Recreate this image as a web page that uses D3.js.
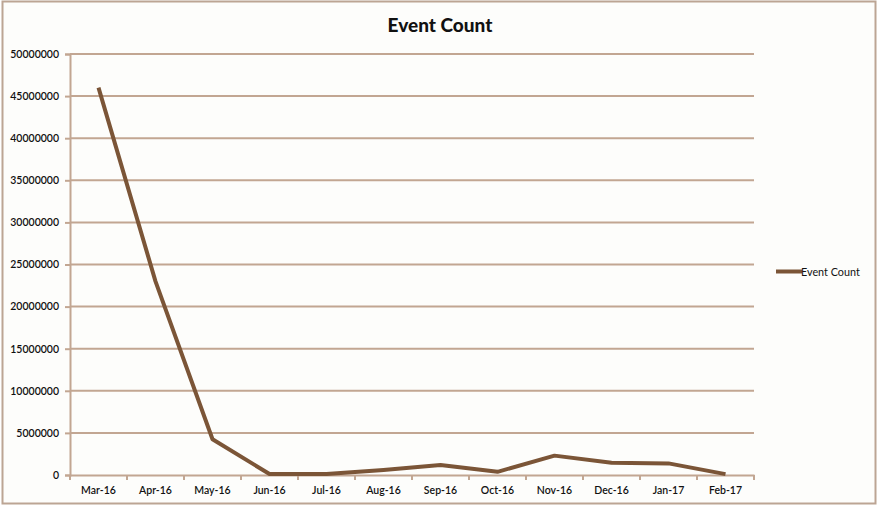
<!DOCTYPE html>
<html>
<head>
<meta charset="utf-8">
<script src="https://cdn.jsdelivr.net/npm/d3@7/dist/d3.min.js"></script>
<style>
  html, body { margin: 0; padding: 0; background: #ffffff; }
  svg { display: block; }
  text { font-family: Lato, "Open Sans", sans-serif; fill: #111; }
</style>
</head>
<body>
<svg id="chart" width="878" height="506"></svg>
<script>
// Monthly event totals
const months = ["Mar-16", "Apr-16", "May-16", "Jun-16", "Jul-16", "Aug-16",
                "Sep-16", "Oct-16", "Nov-16", "Dec-16", "Jan-17", "Feb-17"];
const eventCounts = [46000000, 23000000, 4250000, 120000, 120000, 600000,
                     1200000, 380000, 2300000, 1450000, 1380000, 100000];
const yTicks = [0, 5000000, 10000000, 15000000, 20000000, 25000000,
                30000000, 35000000, 40000000, 45000000, 50000000];
const seriesName = "Event Count";

const svg = d3.select("#chart");
const W = 878, H = 506;
const plot = { left: 70, right: 754, top: 54, bottom: 475 };
const lineColor = "#7b5537";
const gridColor = "#c2a692";

// Chart background and outer frame
svg.append("rect")
  .attr("x", 2.5).attr("y", 1.5)
  .attr("width", W - 5).attr("height", H - 4)
  .attr("fill", "#fdfdfb")
  .attr("stroke", "#bca594").attr("stroke-width", 2);

const x = d3.scaleBand().domain(months).range([plot.left, plot.right]);
const y = d3.scaleLinear().domain([0, 50000000]).range([plot.bottom, plot.top]);

// Horizontal gridlines
svg.append("g")
  .selectAll("line")
  .data(yTicks.filter(d => d > 0))
  .join("line")
  .attr("x1", plot.left).attr("x2", plot.right)
  .attr("y1", d => y(d)).attr("y2", d => y(d))
  .attr("stroke", gridColor).attr("stroke-width", 2);

// Y axis
const yAxis = svg.append("g")
  .attr("transform", `translate(${plot.left},0)`)
  .call(d3.axisLeft(y).tickValues(yTicks).tickFormat(d3.format("d")).tickSize(5).tickPadding(6));
yAxis.select(".domain").attr("stroke", gridColor).attr("stroke-width", 2);
yAxis.selectAll(".tick line").attr("stroke", gridColor).attr("stroke-width", 2);
yAxis.selectAll("text")
  .style("font-size", "10.5px").style("font-weight", "600").attr("fill", "#111");

// X axis with ticks at category boundaries
const xAxis = svg.append("g")
  .attr("transform", `translate(0,${plot.bottom})`)
  .call(d3.axisBottom(x).tickSize(0).tickPadding(12));
xAxis.select(".domain").attr("stroke", gridColor).attr("stroke-width", 2);
xAxis.selectAll("text")
  .style("font-size", "10.5px").style("font-weight", "600").attr("fill", "#111");
svg.append("g")
  .selectAll("line")
  .data(months.map(m => x(m)).concat([plot.right]))
  .join("line")
  .attr("x1", d => d).attr("x2", d => d)
  .attr("y1", plot.bottom).attr("y2", plot.bottom + 5)
  .attr("stroke", gridColor).attr("stroke-width", 2);

// Series line
const line = d3.line()
  .x((d, i) => x(months[i]) + x.bandwidth() / 2)
  .y(d => y(d));
svg.append("path")
  .datum(eventCounts)
  .attr("d", line)
  .attr("fill", "none")
  .attr("stroke", lineColor)
  .attr("stroke-width", 4)
  .attr("stroke-linejoin", "round");

// Title
svg.append("text")
  .attr("x", 440).attr("y", 32)
  .attr("text-anchor", "middle")
  .style("font-size", "19px").style("font-weight", "900")
  .text("Event Count");

// Legend
svg.append("line")
  .attr("x1", 776).attr("x2", 802)
  .attr("y1", 271.5).attr("y2", 271.5)
  .attr("stroke", lineColor).attr("stroke-width", 4);
svg.append("text")
  .attr("x", 801).attr("y", 275.5)
  .style("font-size", "10.8px")
  .text(seriesName);
</script>
</body>
</html>
